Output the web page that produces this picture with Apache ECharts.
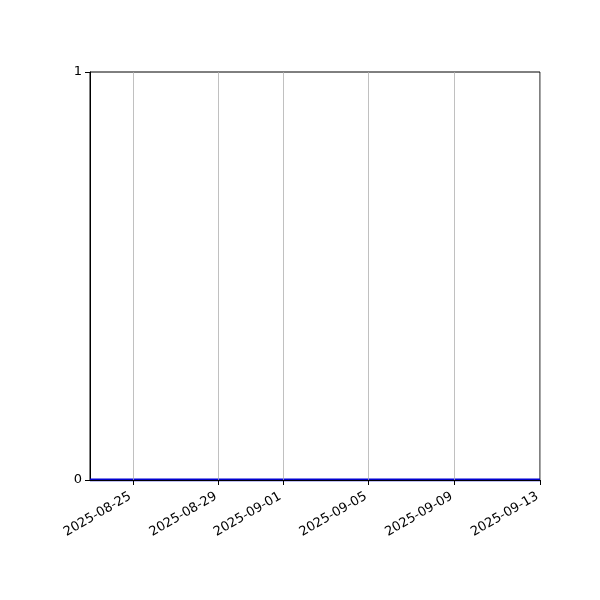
<!DOCTYPE html>
<html>
<head>
<meta charset="utf-8">
<script src="https://cdn.jsdelivr.net/npm/echarts@6/dist/echarts.min.js"></script>
<style>html,body{margin:0;padding:0;background:#fff}#c{width:600px;height:600px}</style>
</head>
<body>
<div id="c"></div>
<script>
// Data
var dates = ['2025-08-23','2025-08-24','2025-08-25','2025-08-26','2025-08-27','2025-08-28','2025-08-29','2025-08-30','2025-08-31','2025-09-01','2025-09-02','2025-09-03','2025-09-04','2025-09-05','2025-09-06','2025-09-07','2025-09-08','2025-09-09','2025-09-10','2025-09-11','2025-09-12','2025-09-13'];
var values = [0,0,0,0,0,0,0,0,0,0,0,0,0,0,0,0,0,0,0,0,0,0];
var xTickLabels = ['2025-08-25','2025-08-29','2025-09-01','2025-09-05','2025-09-09','2025-09-13'];
var yTicks = [0, 1];

function ts(s){var p=s.split('-');return Date.UTC(+p[0],+p[1]-1,+p[2]);}
function pad(n){return (n<10?'0':'')+n;}
function fmt(v){var d=new Date(v);return d.getUTCFullYear()+'-'+pad(d.getUTCMonth()+1)+'-'+pad(d.getUTCDate());}

var tickTs = xTickLabels.map(ts);
var seriesData = dates.map(function(d,i){return [ts(d), values[i]];});

var chart = echarts.init(document.getElementById('c'));
chart.setOption({
  animation:false,
  backgroundColor:'#fff',
  grid:{left:90,right:60,top:72,bottom:120,show:true,borderColor:'#000',borderWidth:1,backgroundColor:'transparent'},
  xAxis:{
    type:'value', z:5,
    min:ts(dates[0]), max:ts(dates[dates.length-1]),
    axisLine:{show:true,onZero:false,lineStyle:{color:'#000',width:1}},
    axisTick:{show:true,length:5,inside:false,customValues:tickTs,lineStyle:{color:'#000',width:1}},
    axisLabel:{show:true,customValues:tickTs,rotate:30,margin:14,padding:[0,3,0,0],color:'#000',fontFamily:'DejaVu Sans',fontSize:13,formatter:function(v){return fmt(v);},hideOverlap:false,showMinLabel:true,showMaxLabel:true},
    splitLine:{show:false}
  },
  yAxis:{
    type:'value', min:0, max:1, interval:1,
    axisLine:{show:true,lineStyle:{color:'#000',width:1}},
    axisTick:{show:true,length:5,customValues:yTicks,lineStyle:{color:'#000',width:1}},
    axisLabel:{color:'#000',customValues:yTicks,fontFamily:'DejaVu Sans',fontSize:13,margin:8,padding:[3,0,0,0],formatter:function(v){return String(v);}},
    splitLine:{show:false}
  },
  series:[{
    type:'line', z:2,
    data:seriesData,
    showSymbol:false,
    symbol:'none',
    lineStyle:{color:'#0000d0',width:3},
    markLine:{
      silent:true,
      symbol:['none','none'],
      label:{show:false},
      lineStyle:{color:'#b0b0b0',width:0.8,type:'solid'},
      data:tickTs.map(function(t){return {xAxis:t};})
    }
  }]
});
</script>
</body>
</html>
